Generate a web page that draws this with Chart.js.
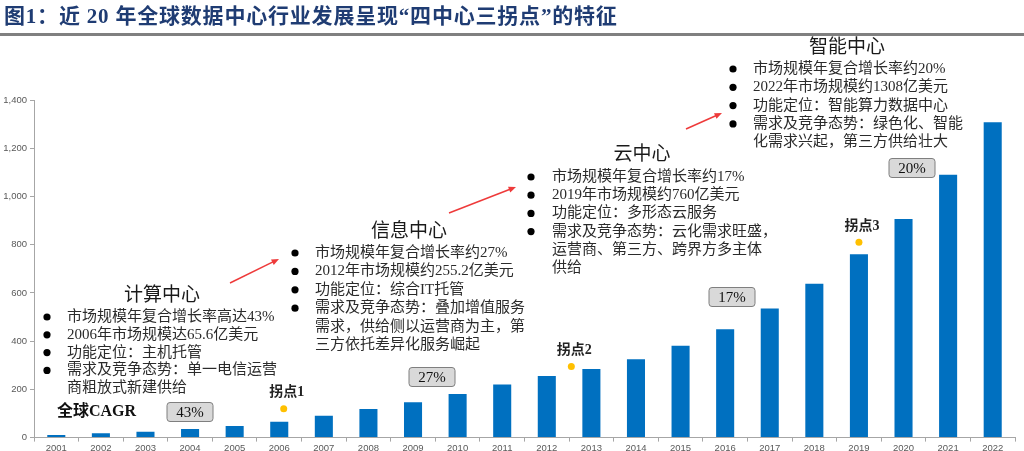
<!DOCTYPE html>
<html>
<head>
<meta charset="utf-8">
<script src="https://cdn.jsdelivr.net/npm/chart.js@4.4.1/dist/chart.umd.min.js"></script>
<style>
html, body { margin: 0; padding: 0; background: #fff; overflow: hidden; }
#wrap { position: relative; width: 1024px; height: 451px; }
</style>
</head>
<body>
<div id="wrap"><canvas id="grafico"></canvas></div>
<script>
// Datos: tamaño del mercado mundial de centros de datos (100 M USD)
const years = ['2001','2002','2003','2004','2005','2006','2007','2008','2009','2010','2011',
               '2012','2013','2014','2015','2016','2017','2018','2019','2020','2021','2022'];
const marketSize = [11, 18, 24, 36, 48, 65.6, 91, 119, 147, 181, 220,
                    255.2, 284, 325, 381, 449, 535, 638, 760, 907, 1090, 1308];

// Puntos de inflexión (índice de año, valor)
const turnLabels = ['拐点1', '拐点2', '拐点3'];
const turnIndex = [5.1, 11.55, 18];
const turnValue = [120, 295, 810];

const cagrLabels = ['43%', '27%', '17%', '20%'];
const cagrCaption = '全球CAGR';
const chartTitle = '图1：近 20 年全球数据中心行业发展呈现“四中心三拐点”的特征';

const stageTitles = ['计算中心', '信息中心', '云中心', '智能中心'];
const stageLines = [
    ['市场规模年复合增长率高达43%', '2006年市场规模达65.6亿美元', '功能定位：主机托管',
     '需求及竞争态势：单一电信运营\n商粗放式新建供给'],
    ['市场规模年复合增长率约27%', '2012年市场规模约255.2亿美元', '功能定位：综合IT托管',
     '需求及竞争态势：叠加增值服务\n需求，供给侧以运营商为主，第\n三方依托差异化服务崛起'],
    ['市场规模年复合增长率约17%', '2019年市场规模约760亿美元', '功能定位：多形态云服务',
     '需求及竞争态势：云化需求旺盛，\n运营商、第三方、跨界方多主体\n供给'],
    ['市场规模年复合增长率约20%', '2022年市场规模约1308亿美元', '功能定位：智能算力数据中心',
     '需求及竞争态势：绿色化、智能\n化需求兴起，第三方供给壮大']
];

// Posiciones de las anotaciones (px)
const SERIF = '"Liberation Serif", "Noto Sans CJK SC", serif';
const bloques = [
    { tx: 162, ty: 296, bx: 47,  x: 67,  y: 317, lh: 17.8 },
    { tx: 409, ty: 232, bx: 295, x: 315, y: 253, lh: 18.4 },
    { tx: 642, ty: 155, bx: 531, x: 552, y: 177, lh: 18.2 },
    { tx: 847, ty: 48,  bx: 733, x: 753, y: 69,  lh: 18.3 }
];
const cajas = [[190, 412], [432, 377], [732, 297], [912, 168]];
const flechas = [[230, 283, 279, 259], [449, 213, 516, 187], [686, 129, 722, 113]];

function flecha(ctx, x1, y1, x2, y2) {
    const a = Math.atan2(y2 - y1, x2 - x1);
    ctx.strokeStyle = '#EE3A3A';
    ctx.fillStyle = '#EE3A3A';
    ctx.lineWidth = 1.5;
    ctx.beginPath();
    ctx.moveTo(x1, y1);
    ctx.lineTo(x2 - 5 * Math.cos(a), y2 - 5 * Math.sin(a));
    ctx.stroke();
    ctx.beginPath();
    ctx.moveTo(x2, y2);
    ctx.lineTo(x2 - 8 * Math.cos(a - 0.4), y2 - 8 * Math.sin(a - 0.4));
    ctx.lineTo(x2 - 8 * Math.cos(a + 0.4), y2 - 8 * Math.sin(a + 0.4));
    ctx.closePath();
    ctx.fill();
}

const anotaciones = {
    id: 'anotaciones',
    afterDraw(chart) {
        const ctx = chart.ctx;
        ctx.save();

        // Título y línea
        ctx.fillStyle = '#1F3C73';
        ctx.font = 'bold 21px ' + SERIF;
        ctx.textAlign = 'left';
        ctx.textBaseline = 'middle';
        ctx.letterSpacing = '0.8px';
        ctx.fillText(chartTitle, 4, 18);
        ctx.letterSpacing = '0px';
        ctx.fillStyle = '#808080';
        ctx.fillRect(0, 33, 1024, 3);

        // Bloques de texto
        bloques.forEach((b, i) => {
            ctx.fillStyle = '#1a1a1a';
            ctx.font = '19px ' + SERIF;
            ctx.textAlign = 'center';
            ctx.fillText(stageTitles[i], b.tx, b.ty);
            ctx.textAlign = 'left';
            ctx.font = '15px ' + SERIF;
            let y = b.y;
            stageLines[i].forEach(item => {
                ctx.fillStyle = '#000';
                ctx.beginPath();
                ctx.arc(b.bx, y, 3.6, 0, Math.PI * 2);
                ctx.fill();
                ctx.fillStyle = '#2b2b2b';
                item.split('\n').forEach(l => {
                    ctx.fillText(l, b.x, y);
                    y += b.lh;
                });
            });
        });

        // Flechas
        flechas.forEach(f => flecha(ctx, f[0], f[1], f[2], f[3]));

        // Cajas CAGR
        ctx.font = '15px ' + SERIF;
        ctx.textAlign = 'center';
        cajas.forEach((c, i) => {
            ctx.fillStyle = '#D9D9D9';
            ctx.strokeStyle = '#7F7F7F';
            ctx.lineWidth = 1;
            ctx.beginPath();
            ctx.roundRect(c[0] - 23, c[1] - 9.5, 46, 19, 3);
            ctx.fill();
            ctx.stroke();
            ctx.fillStyle = '#111';
            ctx.fillText(cagrLabels[i], c[0], c[1] + 1);
        });
        ctx.textAlign = 'left';
        ctx.font = 'bold 16px ' + SERIF;
        ctx.fillText(cagrCaption, 57, 412);

        // Puntos de inflexión: punto amarillo y etiqueta
        const xs = chart.scales.x, ys = chart.scales.y;
        ctx.textAlign = 'center';
        ctx.font = 'bold 14px ' + SERIF;
        turnLabels.forEach((t, i) => {
            const px = xs.getPixelForValue(turnIndex[i]);
            const py = ys.getPixelForValue(turnValue[i]);
            ctx.fillStyle = '#FFC000';
            ctx.beginPath();
            ctx.arc(px, py, 3.5, 0, Math.PI * 2);
            ctx.fill();
            ctx.fillStyle = '#222';
            ctx.fillText(t, px + 3, py - 16);
        });
        ctx.restore();
    }
};

const ctx1 = document.getElementById('grafico').getContext('2d');
const tickFont = { family: '"Liberation Sans", Arial, sans-serif', size: 9.5 };

new Chart(ctx1, {
    type: 'bar',
    data: {
        labels: years,
        datasets: [{
            label: '市场规模',
            data: marketSize,
            backgroundColor: '#0070C0',
            borderWidth: 0,
            barPercentage: 0.9,
            categoryPercentage: 0.45
        }]
    },
    options: {
        responsive: true,
        maintainAspectRatio: false,
        animation: false,
        layout: { padding: { top: 100, right: 9, bottom: -4, left: 0 } },
        plugins: { legend: { display: false }, tooltip: { enabled: false }, title: { display: false } },
        scales: {
            x: {
                ticks: { font: tickFont, color: '#595959', padding: 1, maxRotation: 0, autoSkip: false },
                grid: { drawOnChartArea: false, tickLength: 4, color: '#A6A6A6', offset: true },
                border: { color: '#A6A6A6' }
            },
            y: {
                min: 0,
                max: 1400,
                ticks: { stepSize: 200, font: tickFont, color: '#595959', padding: 3 },
                grid: { drawOnChartArea: false, tickLength: 4, color: '#A6A6A6' },
                border: { color: '#A6A6A6' },
                afterFit(scale) { scale.width = 34; }
            }
        }
    },
    plugins: [anotaciones]
});
</script>
</body>
</html>
